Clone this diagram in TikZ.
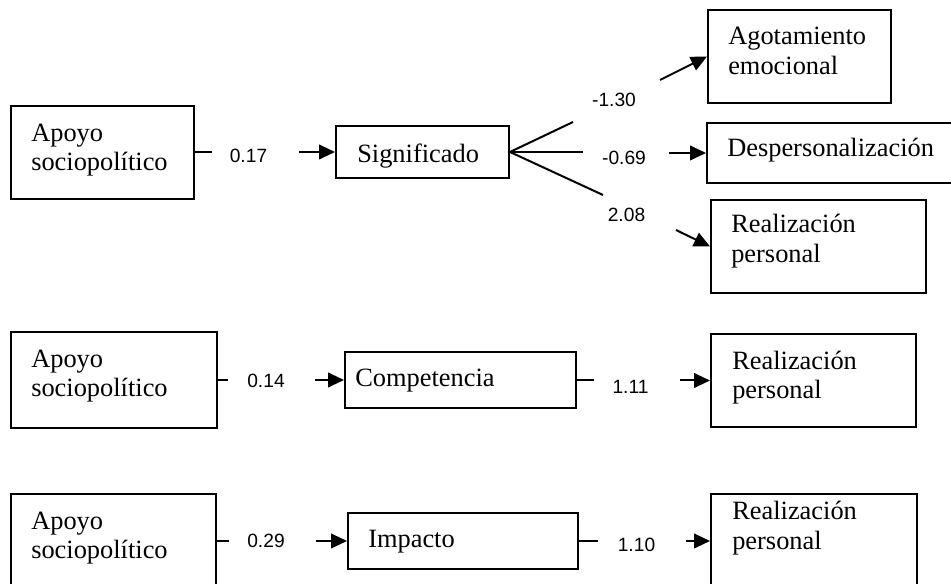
\documentclass[tikz,border=0pt]{standalone}
\usepackage{fontspec}
\setmainfont{Liberation Serif}
\newfontfamily\numfont{Liberation Sans}
\usetikzlibrary{arrows.meta,fit}
\begin{document}
\begin{tikzpicture}[x=0.75pt,y=-0.75pt,
  box/.style={draw,line width=1.5pt,inner sep=0pt,rectangle},
  txt/.style={anchor=base west,inner sep=0pt,font=\fontsize{19.8pt}{22pt}\selectfont},
  num/.style={anchor=base,inner sep=0pt,font=\numfont\fontsize{14.4pt}{17pt}\selectfont},
  ln/.style={line width=1.5pt},
  arr/.style={line width=1.5pt,-{Triangle[length=12pt,width=11pt]}}]
\useasboundingbox (0,0) rectangle (951,584);
\clip (0,0) rectangle (951,584);
% ---------- Row 1 ----------
\node[box,fit={(11,106) (194,199)}] (ap1) {};
\node[box,fit={(336,126) (509,178)}] (sig) {};
\node[box,fit={(708,10) (891,103)}] (ago) {};
\node[box,fit={(707,123) (965,183)}] (desp) {};
\node[box,fit={(711,200) (926,293)}] (rp1) {};
\node[txt] (ap1a) at (31,142) {Apoyo};
\node[txt] (ap1b) at (31,171) {sociopolítico};
\node[txt] (sigt) at (357,163) {Significado};
\node[txt] (agoa) at (728,45) {Agotamiento};
\node[txt] (agob) at (728,75) {emocional};
\node[txt] (despt) at (727,157) {Despersonalización};
\node[txt] (rp1a) at (731,233) {Realización};
\node[txt] (rp1b) at (731,263) {personal};
\coordinate (c1a) at (212,152.5);
\coordinate (c1b) at (299,152);
\draw[ln] (ap1.east) -- (c1a);
\draw[arr] (c1b) -- (sig.west);
\node[num] (n1) at (248.5,163) {0.17};
\coordinate (f1) at (573,122);
\coordinate (f2) at (583,152);
\coordinate (f3) at (603,195);
\draw[ln] (sig.east) -- (f1);
\draw[ln] (sig.east) -- (f2);
\draw[ln] (sig.east) -- (f3);
\coordinate (g1) at (660,80);
\coordinate (g2) at (669,153);
\coordinate (g3) at (676,230);
\draw[arr] (g1) -- (ago.west);
\draw[arr] (g2) -- (desp.west);
\draw[arr] (g3) -- (rp1.west);
\node[num] (n2) at (614,107) {-1.30};
\node[num] (n3) at (624,165) {-0.69};
\node[num] (n4) at (626.5,222) {2.08};
% ---------- Row 2 ----------
\node[box,fit={(11,332) (217,428)}] (ap2) {};
\node[box,fit={(345,352) (576,408)}] (comp) {};
\node[box,fit={(711,334) (916,427)}] (rp2) {};
\node[txt] (ap2a) at (31,368) {Apoyo};
\node[txt] (ap2b) at (31,397) {sociopolítico};
\node[txt] (compt) at (355,387) {Competencia};
\node[txt] (rp2a) at (732,370) {Realización};
\node[txt] (rp2b) at (732,399) {personal};
\coordinate (c2a) at (228,380);
\coordinate (c2b) at (315,380);
\coordinate (c2c) at (594,380);
\coordinate (c2d) at (680,380.5);
\draw[ln] (ap2.east) -- (c2a);
\draw[arr] (c2b) -- (comp.west);
\draw[ln] (comp.east) -- (c2c);
\draw[arr] (c2d) -- (rp2.west);
\node[num] (n5) at (266,388) {0.14};
\node[num] (n6) at (630.5,394) {1.11};
% ---------- Row 3 ----------
\node[box,fit={(11,494) (216,588)}] (ap3) {};
\node[box,fit={(348,513) (578,569)}] (imp) {};
\node[box,fit={(711,494) (917,588)}] (rp3) {};
\node[txt] (ap3a) at (31,530) {Apoyo};
\node[txt] (ap3b) at (31,559) {sociopolítico};
\node[txt] (impt) at (368,548) {Impacto};
\node[txt] (rp3a) at (732,520) {Realización};
\node[txt] (rp3b) at (732,550) {personal};
\coordinate (c3a) at (229,541);
\coordinate (c3b) at (316,541);
\coordinate (c3c) at (598,541);
\coordinate (c3d) at (686,541);
\draw[ln] (ap3.east) -- (c3a);
\draw[arr] (c3b) -- (imp.west);
\draw[ln] (imp.east) -- (c3c);
\draw[arr] (c3d) -- (rp3.west);
\node[num] (n7) at (266,548) {0.29};
\node[num] (n8) at (636.5,552) {1.10};
\end{tikzpicture}
\end{document}
